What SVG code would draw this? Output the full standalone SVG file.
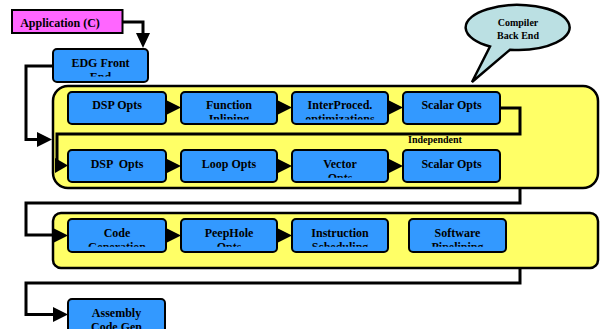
<svg xmlns="http://www.w3.org/2000/svg" width="600" height="329" viewBox="0 0 600 329">
<style>
.t{font-family:"Liberation Serif","Times New Roman",serif;font-weight:bold;font-size:12px;fill:#000;text-anchor:middle}
.s{font-size:10px}
.blue{fill:#3399ff;stroke:#000;stroke-width:2}
.yel{fill:#ffff66;stroke:#000;stroke-width:2.5}
.ln{fill:none;stroke:#000;stroke-width:3}
.ah{fill:#000}
</style>
<defs>
<clipPath id="c1"><rect x="60" y="88" width="460" height="31.5"/></clipPath>
<clipPath id="c2"><rect x="60" y="146" width="460" height="31.8"/></clipPath>
<clipPath id="c3"><rect x="60" y="215" width="460" height="31.7"/></clipPath>
<clipPath id="c0"><rect x="50" y="45" width="100" height="31.5"/></clipPath>
</defs>
<rect width="600" height="329" fill="#fff"/>

<g id="app">
<rect x="12" y="10" width="110.5" height="23" fill="#ff66ff" stroke="#000" stroke-width="2"/>
<text class="t" x="60" y="27">Application (C)</text>
</g>

<g id="callout">
<path d="M490,46.5 L472,82 L510,49.7 A52,22.5 0 1 0 490,46.5 Z" fill="#bbe0e3" stroke="#000" stroke-width="2.5"/>
<text class="t s" x="518" y="26">Compiler</text>
<text class="t s" x="518" y="38.5">Back End</text>
</g>

<g id="backend1">
<rect class="yel" x="53" y="86" width="545" height="102" rx="15"/>
<text class="t s" x="435" y="143">Independent</text>
</g>
<g id="backend2">
<rect class="yel" x="53" y="213" width="545" height="55" rx="8"/>
</g>

<g id="connectors">
<path class="ln" d="M122,22 H143 V34"/>
<polygon class="ah" points="136,33 150,33 143,48"/>
<path class="ln" d="M52,66 H26 V139.5 H38"/>
<polygon class="ah" points="37,132 52,139.5 37,147"/>
<path class="ln" d="M500,108 H520 V134 H57 V165"/>
<polygon class="ah" points="55,158 68,165.5 55,173"/>
<path class="ln" d="M520,187 V203 H26 V235 H54"/>
<polygon class="ah" points="53,228 68,235.5 53,243"/>
<path class="ln" d="M520,268 V283 H26 V314.5 H54"/>
<polygon class="ah" points="53,307 68,314.5 53,322"/>
<polygon class="ah" points="166,100 181,107.5 166,115"/>
<polygon class="ah" points="277,100 292,107.5 277,115"/>
<polygon class="ah" points="388,100 403,107.5 388,115"/>
<polygon class="ah" points="166,158.5 181,166 166,173.5"/>
<polygon class="ah" points="277,158.5 292,166 277,173.5"/>
<polygon class="ah" points="388,158.5 403,166 388,173.5"/>
<polygon class="ah" points="166,228 181,235.5 166,243"/>
<polygon class="ah" points="277,228 292,235.5 277,243"/>
</g>

<g id="edg">
<rect class="blue" x="53" y="49" width="95" height="33" rx="4"/>
<g clip-path="url(#c0)"><text class="t" x="100.5" y="66.7">EDG Front</text><text class="t" x="100.5" y="81">End</text></g>
</g>

<g id="dsp1">
<rect class="blue" x="68" y="92" width="98" height="32" rx="4"/>
<text class="t" x="117" y="109">DSP Opts</text>
</g>
<g id="inline">
<rect class="blue" x="181" y="92" width="96" height="32" rx="4"/>
<g clip-path="url(#c1)"><text class="t" x="229" y="109">Function</text><text class="t" x="229" y="123">Inlining</text></g>
</g>
<g id="ipo">
<rect class="blue" x="292" y="92" width="96" height="32" rx="4"/>
<g clip-path="url(#c1)"><text class="t" x="340" y="109">InterProced.</text><text class="t" x="340" y="123">optimizations</text></g>
</g>
<g id="scalar1">
<rect class="blue" x="403" y="92" width="97" height="32" rx="4"/>
<text class="t" x="451.5" y="109">Scalar Opts</text>
</g>

<g id="dsp2">
<rect class="blue" x="68" y="150" width="98" height="32" rx="4"/>
<text class="t" x="117" y="168" xml:space="preserve">DSP  Opts</text>
</g>
<g id="loop">
<rect class="blue" x="181" y="150" width="96" height="32" rx="4"/>
<text class="t" x="229" y="168">Loop Opts</text>
</g>
<g id="vector">
<rect class="blue" x="292" y="150" width="96" height="32" rx="4"/>
<g clip-path="url(#c2)"><text class="t" x="340" y="168">Vector</text><text class="t" x="340" y="182">Opts</text></g>
</g>
<g id="scalar2">
<rect class="blue" x="403" y="150" width="97" height="32" rx="4"/>
<text class="t" x="451.5" y="168">Scalar Opts</text>
</g>

<g id="codegen">
<rect class="blue" x="68" y="219" width="98" height="33" rx="4"/>
<g clip-path="url(#c3)"><text class="t" x="117" y="237">Code</text><text class="t" x="117" y="251">Generation</text></g>
</g>
<g id="peephole">
<rect class="blue" x="181" y="219" width="96" height="33" rx="4"/>
<g clip-path="url(#c3)"><text class="t" x="229" y="237">PeepHole</text><text class="t" x="229" y="251">Opts</text></g>
</g>
<g id="sched">
<rect class="blue" x="292" y="219" width="96" height="33" rx="4"/>
<g clip-path="url(#c3)"><text class="t" x="340" y="237">Instruction</text><text class="t" x="340" y="251">Scheduling</text></g>
</g>
<g id="swp">
<rect class="blue" x="409" y="219" width="97" height="33" rx="4"/>
<g clip-path="url(#c3)"><text class="t" x="457.5" y="237">Software</text><text class="t" x="457.5" y="251">Pipelining</text></g>
</g>

<g id="asm">
<rect class="blue" x="68" y="299" width="97" height="40" rx="4"/>
<text class="t" x="116.5" y="316.7">Assembly</text>
<text class="t" x="116.5" y="330.5">Code Gen</text>
</g>
</svg>
